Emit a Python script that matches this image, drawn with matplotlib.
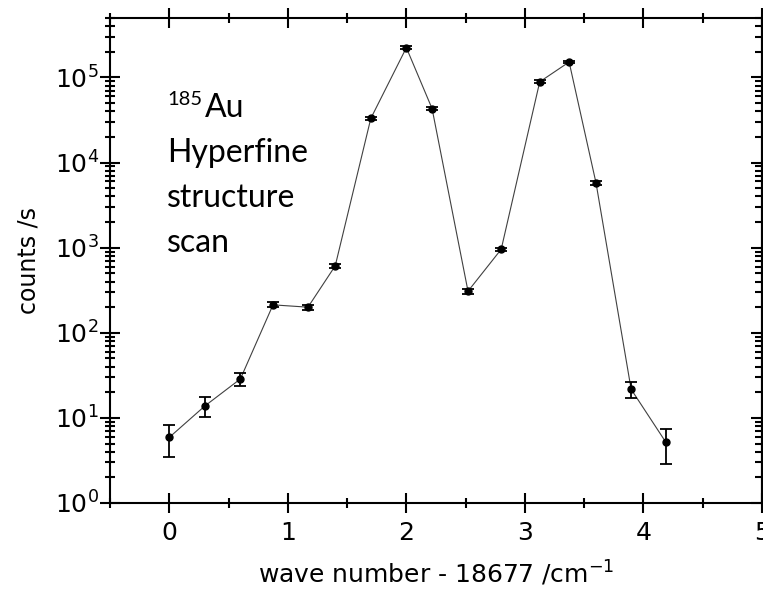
'''Hyperfine structure scan of 185Au, log-scale counts.'''

import matplotlib
matplotlib.use('Agg')
import matplotlib.pyplot as plt
from matplotlib.ticker import MultipleLocator, LogLocator

# data
wave = [0.0, 0.30, 0.60, 0.875, 1.17, 1.40, 1.70, 2.00, 2.217, 2.52, 2.80, 3.125, 3.373, 3.60, 3.896, 4.19]
counts = [5.9, 13.8, 28.7, 213, 200, 612, 33000, 224000, 43000, 308, 958, 89000, 152000, 5750, 21.7, 5.15]
err = [2.4, 3.6, 5.3, 14, 13, 35, 1500, 8000, 2000, 22, 45, 3500, 6000, 300, 4.6, 2.25]

plt.rcParams['font.family'] = ['DejaVu Sans']
plt.rcParams['mathtext.default'] = 'regular'

W, H = 763, 591
fig = plt.figure(figsize=(W / 100, H / 100), dpi=100)
ax = fig.add_axes([110 / W, 1 - 503 / H, (762 - 110) / W, (503 - 18) / H])

# line and error bars
ax.plot(wave, counts, color='#404040', lw=0.8, zorder=2)
ax.errorbar(wave, counts, yerr=err, fmt='o', color='black', ms=5,
            elinewidth=1.3, capsize=4.5, capthick=1.3, zorder=3)

ax.set_yscale('log')
ax.set_xlim(-0.5, 5)
ax.set_ylim(1, 5e5)

# ticks
ax.xaxis.set_major_locator(MultipleLocator(1))
ax.xaxis.set_minor_locator(MultipleLocator(0.5))
ax.yaxis.set_major_locator(LogLocator(base=10, numticks=10))
ax.yaxis.set_minor_locator(LogLocator(base=10, subs=range(2, 10), numticks=20))
ax.tick_params(which='both', direction='inout', width=1.5,
               top=True, right=False, labelsize=18)
ax.tick_params(axis='x', pad=6)
ax.tick_params(axis='y', pad=1)
ax.tick_params(which='major', length=14)
ax.tick_params(which='minor', length=7)
for s in ax.spines.values():
    s.set_linewidth(1.5)

ax.set_xlabel('wave number - 18677 /cm$^{-1}$', fontsize=18, labelpad=10)
ax.set_ylabel('counts /s', fontsize=17, labelpad=10)

# right side ticks point inward only
ax2 = ax.secondary_yaxis('right')
ax2.yaxis.set_major_locator(LogLocator(base=10, numticks=10))
ax2.yaxis.set_minor_locator(LogLocator(base=10, subs=range(2, 10), numticks=20))
ax2.tick_params(which='both', direction='in', width=1.5, labelright=False)
ax2.tick_params(which='major', length=8)
ax2.tick_params(which='minor', length=5)
ax2.spines['right'].set_linewidth(1.5)

# annotation
ann = dict(family=['Lato', 'DejaVu Sans'], fontsize=23, color='black')
fig.text(167 / W, 1 - 105 / H, '185', family=['Lato', 'DejaVu Sans'],
         fontsize=14.5, va='baseline')
fig.text(205 / W, 1 - 116.7 / H, 'Au', va='baseline', **ann)
fig.text(167 / W, 1 - 161.7 / H, 'Hyperfine', va='baseline', **ann)
fig.text(167 / W, 1 - 206.7 / H, 'structure', va='baseline', **ann)
fig.text(167 / W, 1 - 251.7 / H, 'scan', va='baseline', **ann)

fig.savefig('out.png', dpi=100)
